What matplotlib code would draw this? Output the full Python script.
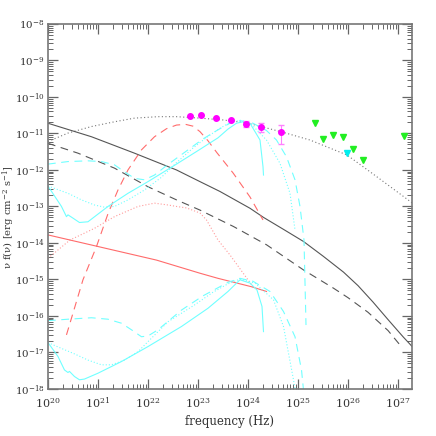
import matplotlib
matplotlib.use("Agg")
import matplotlib.pyplot as plt
import numpy as np
from matplotlib.ticker import LogLocator, LogFormatterMathtext, NullFormatter

plt.rcParams["font.family"] = "DejaVu Serif"
plt.rcParams["mathtext.fontset"] = "dejavuserif"

# ── data (log10 frequency, log10 nu F_nu) ───────────────────────────────────
total_x = [20, 20.4, 20.87, 21.33, 21.73, 22.2, 22.57, 23.04, 23.5, 23.98, 24.68, 25.24, 25.98, 26.58, 27.28]
total_y = [-11.22, -10.99, -10.81, -10.68, -10.58, -10.54, -10.54, -10.58, -10.63, -10.71, -10.96, -11.18, -11.59, -12.19, -12.9]

blk_solid_x = [20, 20.87, 21.73, 22.04, 22.57, 23.04, 23.44, 24.04, 24.31, 24.7, 25.11, 25.5, 25.91, 26.2, 26.5, 26.8, 27.1, 27.29]
blk_solid_y = [-10.72, -11.09, -11.54, -11.71, -12.0, -12.32, -12.59, -13.05, -13.3, -13.62, -13.96, -14.36, -14.8, -15.17, -15.62, -16.1, -16.57, -16.85]

blk_dash_x = [20, 20.6, 21.33, 22.0, 22.57, 23.04, 23.71, 24.37, 25.11, 25.71, 26.0, 26.4, 26.8, 27.09]
blk_dash_y = [-11.27, -11.54, -11.95, -12.46, -12.82, -13.1, -13.55, -14.05, -14.74, -15.24, -15.5, -15.9, -16.4, -16.88]

red_dash_x = [20.37, 20.7, 20.97, 21.2, 21.4, 21.6, 21.87, 22.13, 22.37, 22.57, 22.75, 22.9, 23.04, 23.2, 23.38, 23.7, 24.04, 24.3]
red_dash_y = [-16.52, -15.01, -14.1, -13.2, -12.55, -12.0, -11.45, -11.09, -10.87, -10.77, -10.75, -10.8, -10.95, -11.2, -11.53, -12.08, -12.74, -13.37]

red_dot_x = [20, 20.44, 20.93, 21.33, 21.8, 22.13, 22.4, 22.57, 22.77, 23.04, 23.17, 23.4, 23.64, 24.1]
red_dot_y = [-14.42, -13.92, -13.6, -13.28, -13.0, -12.91, -12.96, -13.0, -13.04, -13.18, -13.37, -13.92, -14.33, -15.2]

red_solid_x = [20, 22.17, 23.04, 23.4, 24.07, 24.37]
red_solid_y = [-13.78, -14.47, -14.83, -14.97, -15.2, -15.33]

cyan_up_solid_x = [20, 20.27, 20.37, 20.4, 20.5, 20.63, 20.8, 21.2, 21.6, 22.0, 22.57, 23.0, 23.4, 23.6, 23.77, 23.9, 24.04, 24.24, 24.3, 24.31]
cyan_up_solid_y = [-12.44, -13.0, -13.28, -13.23, -13.32, -13.44, -13.42, -13.0, -12.64, -12.32, -11.84, -11.47, -11.12, -10.88, -10.72, -10.68, -10.72, -11.18, -11.91, -12.14]

cyan_up_dot_x = [20, 20.4, 20.67, 20.93, 21.13, 21.33, 21.6, 21.93, 22.27, 22.57, 22.9, 23.2, 23.45, 23.64, 23.85, 24.04, 24.37, 24.64, 24.84, 24.94]
cyan_up_dot_y = [-12.44, -12.64, -12.82, -12.96, -13.02, -13.0, -12.82, -12.55, -12.2, -11.8, -11.4, -11.08, -10.85, -10.7, -10.64, -10.71, -11.18, -11.82, -12.64, -13.64]

cyan_up_dash_x = [20, 20.4, 20.8, 21.07, 21.33, 21.53, 21.73, 21.93, 22.13, 22.4, 22.8, 23.1, 23.4, 23.64, 23.85, 24.1, 24.37, 24.57, 24.77, 24.94, 25.04, 25.12, 25.16]
cyan_up_dash_y = [-11.84, -11.77, -11.75, -11.77, -11.86, -12.05, -12.23, -12.27, -12.14, -11.85, -11.45, -11.15, -10.9, -10.72, -10.65, -10.72, -10.92, -11.18, -11.64, -12.27, -13.0, -13.92, -16.25]

cyan_lo_solid_x = [20, 20.2, 20.33, 20.4, 20.43, 20.53, 20.63, 20.73, 21.0, 21.47, 22.0, 22.67, 23.2, 23.6, 23.84, 24.04, 24.18, 24.28, 24.31]
cyan_lo_solid_y = [-16.73, -17.11, -17.48, -17.55, -17.52, -17.66, -17.75, -17.73, -17.57, -17.25, -16.84, -16.29, -15.79, -15.33, -15.01, -15.1, -15.29, -15.74, -16.43]

cyan_lo_dot_x = [20, 20.27, 20.53, 20.8, 21.07, 21.27, 21.53, 21.8, 22.07, 22.4, 22.93, 23.3, 23.6, 23.84, 24.14, 24.51, 24.71, 24.91, 24.94]
cyan_lo_dot_y = [-16.73, -16.89, -17.04, -17.21, -17.34, -17.34, -17.21, -16.98, -16.61, -16.16, -15.7, -15.35, -15.12, -14.99, -15.1, -15.56, -16.29, -17.75, -18.0]

cyan_lo_dash_x = [20, 20.4, 20.87, 21.2, 21.47, 21.67, 21.87, 22.0, 22.2, 22.67, 23.1, 23.6, 23.84, 24.1, 24.44, 24.71, 24.94, 25.07, 25.11]
cyan_lo_dash_y = [-16.13, -16.09, -16.05, -16.09, -16.2, -16.38, -16.57, -16.55, -16.38, -15.84, -15.45, -15.08, -14.97, -15.05, -15.33, -15.88, -16.57, -17.48, -18.03]

# measured points, error bars on the last three
pts_x = [22.85, 23.07, 23.37, 23.67, 23.97, 24.27, 24.67]
pts_y = [-10.52, -10.49, -10.58, -10.62, -10.74, -10.83, -10.95]
pts_lo = [None, None, None, None, -10.83, -10.97, -11.29]
pts_hi = [None, None, None, None, -10.65, -10.72, -10.77]

# upper limits
ul_x = [25.33, 25.49, 25.69, 25.89, 26.09, 26.29, 27.11]
ul_y = [-10.70, -11.16, -11.05, -11.10, -11.42, -11.73, -11.06]
ul2_x = [25.97]
ul2_y = [-11.54]


def p(v):
    return 10.0 ** np.asarray(v, dtype=float)


CYAN = "#70ffff"
RED = "#ff6b6b"
PINK = "#ff9a9a"
GREY = "#555555"

fig = plt.figure(figsize=(4.36, 4.36), dpi=100)
ax = fig.add_axes([0.110, 0.108, 0.835, 0.837])

lw = 0.8
ax.plot(p(total_x), p(total_y), color="#777777", lw=lw, ls=(0, (1, 2.2)))
ax.plot(p(blk_solid_x), p(blk_solid_y), color=GREY, lw=lw)
ax.plot(p(blk_dash_x), p(blk_dash_y), color=GREY, lw=lw, ls=(0, (7, 5)))

ax.plot(p(red_dash_x), p(red_dash_y), color=RED, lw=lw, ls=(0, (7, 5)))
ax.plot(p(red_dot_x), p(red_dot_y), color=PINK, lw=lw, ls=(0, (1, 1.8)))
ax.plot(p(red_solid_x), p(red_solid_y), color=RED, lw=lw)

for xs, ys in [(cyan_up_solid_x, cyan_up_solid_y), (cyan_lo_solid_x, cyan_lo_solid_y)]:
    ax.plot(p(xs), p(ys), color=CYAN, lw=lw)
for xs, ys in [(cyan_up_dot_x, cyan_up_dot_y), (cyan_lo_dot_x, cyan_lo_dot_y)]:
    ax.plot(p(xs), p(ys), color=CYAN, lw=lw, ls=(0, (1, 1.8)))
for xs, ys in [(cyan_up_dash_x, cyan_up_dash_y), (cyan_lo_dash_x, cyan_lo_dash_y)]:
    ax.plot(p(xs), p(ys), color=CYAN, lw=lw, ls=(0, (7, 5)))

ax.plot(p(pts_x), p(pts_y), "o", color="#ff00ff", ms=4.0, mec="#ff00ff", zorder=6)
for xv, yv, lo, hi in zip(pts_x, pts_y, pts_lo, pts_hi):
    if lo is None:
        continue
    ax.errorbar(p(xv), p(yv), yerr=[[p(yv) - p(lo)], [p(hi) - p(yv)]],
                fmt="none", ecolor="#ff80ff", elinewidth=0.8, capsize=2.5, zorder=5)

ax.plot(p(ul_x), p(ul_y), "v", color="#22ee22", ms=4, zorder=6)
ax.plot(p(ul2_x), p(ul2_y), "v", color="#00eeee", ms=4, zorder=6)

ax.set_xscale("log")
ax.set_yscale("log")
ax.set_xlim(1e20, 10 ** 27.28)
ax.set_ylim(1e-18, 1e-8)

ax.xaxis.set_major_locator(LogLocator(base=10, numticks=20))
ax.yaxis.set_major_locator(LogLocator(base=10, numticks=20))
ax.xaxis.set_minor_locator(LogLocator(base=10, subs=np.arange(2, 10), numticks=100))
ax.yaxis.set_minor_locator(LogLocator(base=10, subs=np.arange(2, 10), numticks=100))
ax.xaxis.set_major_formatter(LogFormatterMathtext())
ax.yaxis.set_major_formatter(LogFormatterMathtext())
ax.xaxis.set_minor_formatter(NullFormatter())
ax.yaxis.set_minor_formatter(NullFormatter())

ax.tick_params(which="both", direction="in", top=True, right=True, colors="#666666",
               labelcolor="#333333", labelsize=8)
ax.tick_params(axis="x", which="major", pad=5)
ax.tick_params(axis="y", which="major", pad=2.5, labelsize=7.4)
ax.tick_params(which="major", length=7, width=0.9)
ax.tick_params(which="minor", length=3.5, width=0.7)
for s in ax.spines.values():
    s.set_color("#777777")
    s.set_linewidth(1.2)

ax.set_xlabel("frequency (Hz)", fontsize=8.5, color="#333333", labelpad=3)
ax.set_ylabel(r"ν f(ν) [erg cm$^{-2}$ s$^{-1}$]", fontsize=7.2, color="#333333",
              va="center", ha="center")
ax.yaxis.set_label_coords(-0.107, 0.47)

fig.savefig("out.png", dpi=100)
